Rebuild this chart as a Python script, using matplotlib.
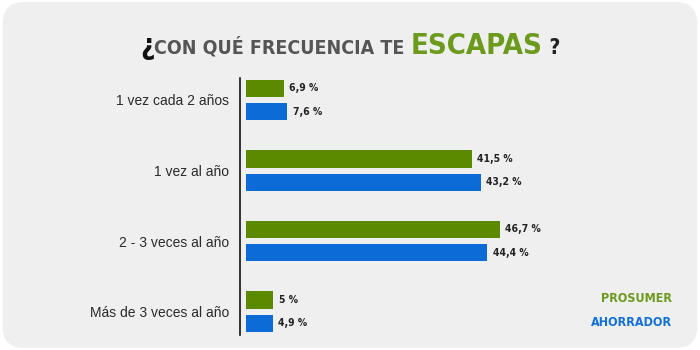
import matplotlib
matplotlib.use("Agg")
import matplotlib.pyplot as plt
from matplotlib.patches import FancyBboxPatch
from matplotlib import font_manager

categories = ["1 vez cada 2 años", "1 vez al año", "2 - 3 veces al año", "Más de 3 veces al año"]
prosumer = [6.9, 41.5, 46.7, 5.0]
ahorrador = [7.6, 43.2, 44.4, 4.9]
prosumer_labels = ["6,9 %", "41,5 %", "46,7 %", "5 %"]
ahorrador_labels = ["7,6 %", "43,2 %", "44,4 %", "4,9 %"]

green = "#5b8a00"
blue = "#0c6bd6"
green_txt = "#6b9a1c"
blue_txt = "#1170dc"

# pick a condensed face if one is installed
cond_fonts = [f for f in font_manager.fontManager.ttflist
              if f.stretch in ("condensed", "semi-condensed", "extra-condensed")
              or "Condensed" in f.name or "Narrow" in f.name]
if cond_fonts:
    cf = cond_fonts[0]
    narrow = dict(family=cf.name, stretch=cf.stretch)
else:
    narrow = dict(family="DejaVu Sans")

fig = plt.figure(figsize=(7, 3.5), dpi=100)
fig.patch.set_facecolor("white")
bg = FancyBboxPatch((0.004, 0.006), 0.992, 0.988, boxstyle="round,pad=0,rounding_size=0.03",
                    transform=fig.transFigure, facecolor="#efefef", edgecolor="none",
                    mutation_aspect=2, zorder=-10)
fig.patches.append(bg)

ax = fig.add_axes([240 / 700, 0.043, 441 / 700, 0.734])
ax.set_facecolor("none")

pos = list(range(len(categories)))
h = 0.245
off = 0.165
ax.barh([p - off for p in pos], prosumer, height=h, left=0, color=green)
ax.barh([p + off for p in pos], ahorrador, height=h, left=0, color=blue)

for p, v, s in zip(pos, prosumer, prosumer_labels):
    ax.text(v + 1.0, p - off, s, va="center", ha="left", fontsize=7.5,
            fontweight="bold", color="#222222", **narrow)
for p, v, s in zip(pos, ahorrador, ahorrador_labels):
    ax.text(v + 1.0, p + off, s, va="center", ha="left", fontsize=7.5,
            fontweight="bold", color="#222222", **narrow)

ax.set_xlim(-1.1, 80)
ax.set_ylim(3.33, -0.31)
ax.set_yticks(pos)
ax.set_yticklabels(categories, fontsize=10, color="#2a2a2a", family="Liberation Sans")
ax.tick_params(axis="y", length=0, pad=8)
ax.set_xticks([])
for side in ["top", "right", "bottom"]:
    ax.spines[side].set_visible(False)
ax.spines["left"].set_color("#111111")
ax.spines["left"].set_linewidth(1.2)

# legend text in the lower right corner
fig.text(672 / 700, 1 - 298 / 350, "PROSUMER", ha="right", va="center",
         fontsize=9, fontweight="bold", color=green_txt, **narrow)
fig.text(672 / 700, 1 - 322 / 350, "AHORRADOR", ha="right", va="center",
         fontsize=9, fontweight="bold", color=blue_txt, **narrow)

# title assembled from pieces
r = fig.canvas.get_renderer()
parts = [("¿", 20, "#111111"), ("CON QUÉ FRECUENCIA TE ", 14, "#555555"),
         ("ESCAPAS", 21, green_txt), (" ?", 15, "#222222")]
texts = []
x = 0
for s, fs, c in parts:
    t = fig.text(x, 1 - 54 / 350, s, fontsize=fs, color=c, fontweight="bold",
                 ha="left", va="baseline", **narrow)
    w = t.get_window_extent(r).width / fig.bbox.width
    texts.append((t, w))
    x += w
start = 0.5 - x / 2
for t, w in texts:
    t.set_x(start)
    start += w

fig.savefig("out.png", dpi=100, facecolor=fig.get_facecolor())
